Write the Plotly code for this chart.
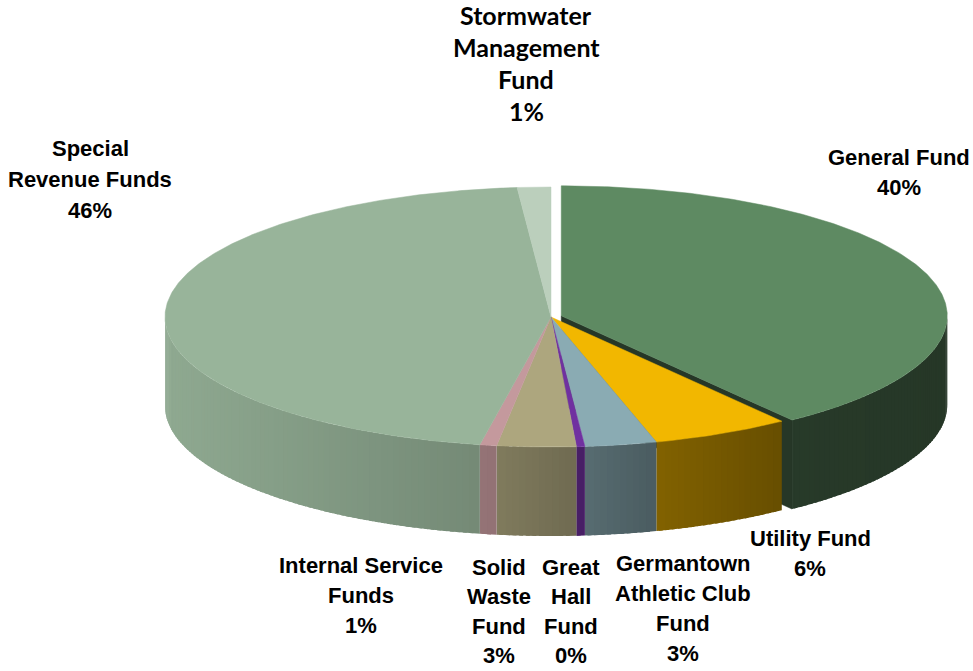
import numpy as np
import plotly.graph_objects as go

# Fund shares of the budget (percent), clockwise from 12 o'clock
funds = [
    "General Fund",
    "Utility Fund",
    "Germantown Athletic Club Fund",
    "Great Hall Fund",
    "Solid Waste Fund",
    "Internal Service Funds",
    "Special Revenue Funds",
    "Stormwater Management Fund",
]
shares = [39.8, 5.8, 3.0, 0.35, 3.3, 0.7, 45.65, 1.4]
explode = [0.028, 0, 0, 0, 0, 0, 0, 0]

top_colors = [
    (94, 138, 98),
    (242, 183, 0),
    (138, 171, 179),
    (112, 48, 160),
    (173, 166, 126),
    (196, 153, 157),
    (152, 180, 154),
    (187, 207, 188),
]

# Label text (name lines; the percentage line is added from the share)
label_lines = [
    ["General Fund"],
    ["Utility Fund"],
    ["Germantown", "Athletic Club", "Fund"],
    ["Great", "Hall", "Fund"],
    ["Solid", "Waste", "Fund"],
    ["Internal Service", "Funds"],
    ["Special", "Revenue Funds"],
    ["Stormwater", "Management", "Fund"],
]
label_x = [899, 810, 683, 571, 499, 361, 90, 526]
label_y = [157, 538, 563, 567, 567, 565, 148, 15]
label_step = [30, 30, 30, 29.5, 29.5, 30, 31, 32]

W, H = 973, 671
CX, CY, RX, RY, DEPTH = 551, 317, 386, 130, 89

# side-wall lighting, as a function of horizontal position across the pie
U_PTS = [-1.0, -0.2, 0.075, 0.27, 0.62, 1.0]
F_PTS = [0.94, 0.77, 0.64, 0.54, 0.42, 0.40]


def rim(theta, dx=0.0, dy=0.0, drop=0.0):
    t = np.radians(theta)
    return CX + dx + RX * np.sin(t), CY + dy - RY * np.cos(t) + drop


def rgb(c):
    return "rgb(%d,%d,%d)" % tuple(int(round(v)) for v in c)


def shade(c, x):
    f = float(np.interp((x - CX) / RX, U_PTS, F_PTS))
    return rgb([v * f for v in c])


def poly(xs, ys, color, lw=0.0):
    return go.Scatter(
        x=list(xs) + [xs[0]], y=list(ys) + [ys[0]],
        mode="lines", fill="toself", fillcolor=color,
        line=dict(color=color, width=lw), hoverinfo="skip", showlegend=False,
    )


total = sum(shares)
bounds = np.concatenate([[0.0], np.cumsum(shares) / total * 360.0])

slices = []
for i in range(len(shares)):
    a0, a1 = bounds[i], bounds[i + 1]
    mid = np.radians((a0 + a1) / 2)
    dx = explode[i] * RX * np.sin(mid)
    dy = -explode[i] * RY * np.cos(mid)
    slices.append((a0, a1, dx, dy))


def wall_traces(i):
    """Front side wall of a slice, as narrow bands drawn from the left end
    (high angle) toward the right, each overlapping the band before it."""
    a0, a1, dx, dy = slices[i]
    lo, hi = max(a0, 90.0), min(a1, 270.0)
    out = []
    if hi <= lo:
        return out
    n = max(1, int(np.ceil(hi - lo)))
    edges = np.linspace(hi, lo, n + 1)
    for k, (t0, t1) in enumerate(zip(edges[:-1], edges[1:])):
        ts = np.linspace(min(t0 + 0.6, hi) if k else t0, t1, 4)
        xs, ys = rim(ts, dx, dy)
        col = shade(top_colors[i], float(np.mean(xs)))
        px = list(xs) + list(xs[::-1])
        py = list(ys) + list((ys + DEPTH)[::-1])
        out.append(poly(px, py, col, lw=0.0))
    return out


def top_trace(i):
    a0, a1, dx, dy = slices[i]
    n = max(2, int(np.ceil((a1 - a0) * 2)))
    th = np.linspace(a0, a1, n + 1)
    xs, ys = rim(th, dx, dy)
    px = [CX + dx] + list(xs)
    py = [CY + dy] + list(ys)
    return poly(px, py, rgb(top_colors[i]), lw=0.5)


def end_face_trace(i):
    a0, a1, dx, dy = slices[i]
    xr, yr = rim(a1, dx, dy)
    xc, yc = CX + dx, CY + dy
    col = shade(top_colors[i], CX + RX)
    return poly([xc, xr, xr, xc], [yc, yr, yr + DEPTH, yc + DEPTH], col, lw=0.5)


traces = []
exploded = [i for i in range(len(shares)) if explode[i] > 0]
others = [i for i in range(len(shares)) if explode[i] == 0]

for i in exploded:
    traces.append(end_face_trace(i))
    traces += wall_traces(i)
    traces.append(top_trace(i))
for i in others:
    traces += wall_traces(i)
for i in others:
    traces.append(top_trace(i))

fig = go.Figure(traces)

label_font = dict(family="Liberation Sans, Arial, sans-serif", size=22,
                  color="black", weight="bold")
title_font = dict(family="Lato, Carlito, Calibri, sans-serif", size=25,
                  color="black", weight="bold")

for i, name in enumerate(funds):
    lines = label_lines[i] + ["%d%%" % round(shares[i] / total * 100)]
    font = title_font if name.startswith("Stormwater") else label_font
    for k, txt in enumerate(lines):
        fig.add_annotation(
            x=label_x[i], y=label_y[i] + k * label_step[i], text=txt,
            showarrow=False, xanchor="center", yanchor="middle", font=font,
        )

fig.update_layout(
    width=W, height=H,
    margin=dict(l=0, r=0, t=0, b=0),
    paper_bgcolor="white", plot_bgcolor="white",
    showlegend=False, hovermode=False,
    xaxis=dict(range=[0, W], visible=False, fixedrange=True),
    yaxis=dict(range=[H, 0], visible=False, fixedrange=True),
)

fig.write_html("out.html")
